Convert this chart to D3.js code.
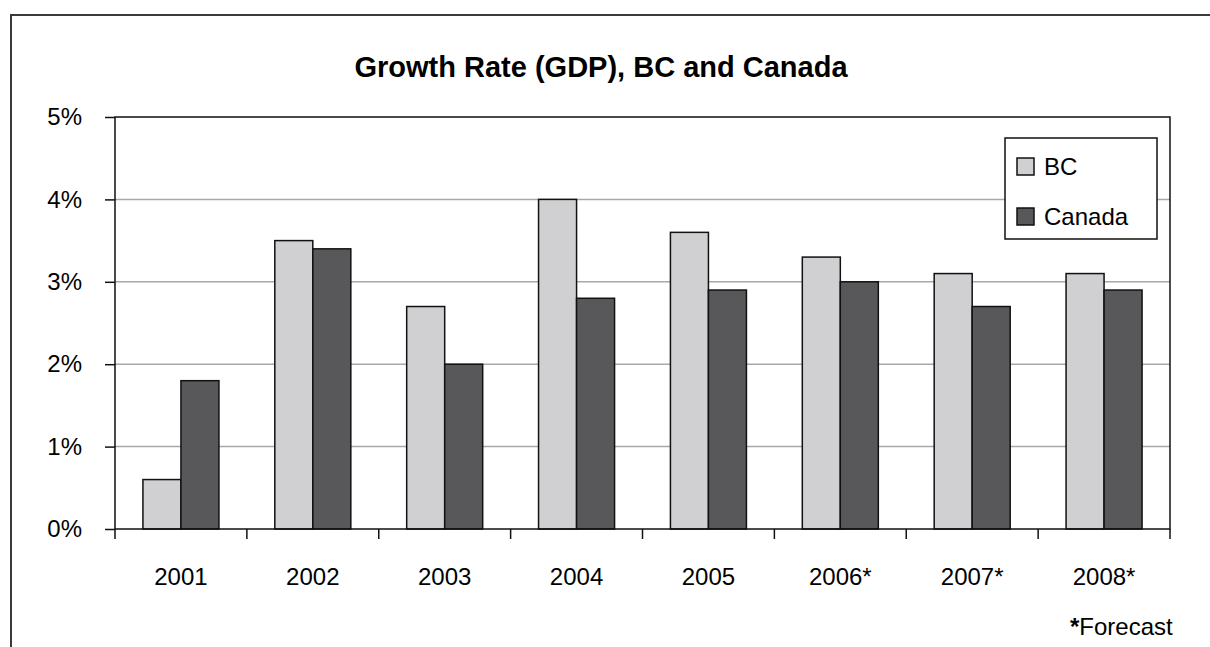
<!DOCTYPE html>
<html>
<head>
<meta charset="utf-8">
<script src="https://cdn.jsdelivr.net/npm/d3@7"></script>
<style>
  html, body { margin: 0; padding: 0; background: #fff; }
  svg { display: block; font-family: "Liberation Sans", Arial, sans-serif; }
</style>
</head>
<body>
<svg id="chart" width="1210" height="647"></svg>
<script>
// GDP growth, percent
const years = ["2001", "2002", "2003", "2004", "2005", "2006*", "2007*", "2008*"];
const bcValues = [0.6, 3.5, 2.7, 4.0, 3.6, 3.3, 3.1, 3.1];
const canadaValues = [1.8, 3.4, 2.0, 2.8, 2.9, 3.0, 2.7, 2.9];
const seriesNames = ["BC", "Canada"];
const seriesColors = ["#d0d0d2", "#58585a"];
const yTicks = [0, 1, 2, 3, 4, 5];

const svg = d3.select("#chart");

// outer frame (left and top edges)
svg.append("path")
  .attr("d", "M11,647 V15 H1210")
  .attr("fill", "none")
  .attr("stroke", "#3a3a3a")
  .attr("stroke-width", 2);

const plot = { left: 115, top: 117, right: 1170, bottom: 529 };

const x = d3.scaleBand()
  .domain(years)
  .range([plot.left, plot.right])
  .paddingInner(0)
  .paddingOuter(0);

const x1 = d3.scaleBand()
  .domain(seriesNames)
  .range([0, x.bandwidth()])
  .paddingInner(0)
  .paddingOuter(0.735);

const y = d3.scaleLinear()
  .domain([0, 5])
  .range([plot.bottom, plot.top]);

// horizontal gridlines
svg.append("g")
  .selectAll("line")
  .data(yTicks.filter(t => t > 0 && t < 5))
  .join("line")
  .attr("x1", plot.left).attr("x2", plot.right)
  .attr("y1", d => y(d)).attr("y2", d => y(d))
  .attr("stroke", "#a8a8a8")
  .attr("stroke-width", 1.5);

// bars
const rows = years.map((yr, i) => ({ year: yr, values: [bcValues[i], canadaValues[i]] }));
svg.append("g")
  .selectAll("g")
  .data(rows)
  .join("g")
  .attr("transform", d => `translate(${x(d.year)},0)`)
  .selectAll("rect")
  .data(d => d.values.map((v, j) => ({ key: seriesNames[j], value: v, color: seriesColors[j] })))
  .join("rect")
  .attr("x", d => x1(d.key))
  .attr("width", x1.bandwidth())
  .attr("y", d => y(d.value))
  .attr("height", d => y(0) - y(d.value))
  .attr("fill", d => d.color)
  .attr("stroke", "#111")
  .attr("stroke-width", 1.5);

// plot area border
svg.append("rect")
  .attr("x", plot.left).attr("y", plot.top)
  .attr("width", plot.right - plot.left)
  .attr("height", plot.bottom - plot.top)
  .attr("fill", "none")
  .attr("stroke", "#111")
  .attr("stroke-width", 1.5);

// y axis
const yAxis = d3.axisLeft(y)
  .tickValues(yTicks)
  .tickFormat(d => d + "%")
  .tickSize(10)
  .tickPadding(23);
const gy = svg.append("g")
  .attr("transform", `translate(${plot.left},0)`)
  .call(yAxis);
gy.select(".domain").remove();
gy.selectAll(".tick line").attr("stroke", "#111").attr("stroke-width", 1.5);
gy.selectAll(".tick text")
  .attr("font-size", 24)
  .attr("font-family", "Liberation Sans, Arial, sans-serif")
  .attr("fill", "#000");

// x axis: ticks at category boundaries
const boundaries = d3.range(years.length + 1).map(i => plot.left + i * x.step());
svg.append("g")
  .selectAll("line")
  .data(boundaries)
  .join("line")
  .attr("x1", d => d).attr("x2", d => d)
  .attr("y1", plot.bottom).attr("y2", plot.bottom + 10)
  .attr("stroke", "#111")
  .attr("stroke-width", 1.5);

svg.append("g")
  .selectAll("text")
  .data(years)
  .join("text")
  .attr("x", d => x(d) + x.bandwidth() / 2)
  .attr("y", 585)
  .attr("text-anchor", "middle")
  .attr("font-size", 24)
  .attr("fill", "#000")
  .text(d => d);

// title
svg.append("text")
  .attr("x", 601)
  .attr("y", 77)
  .attr("text-anchor", "middle")
  .attr("font-size", 29)
  .attr("font-weight", "bold")
  .attr("fill", "#000")
  .text("Growth Rate (GDP), BC and Canada");

// legend
const legend = svg.append("g");
legend.append("rect")
  .attr("x", 1005).attr("y", 138)
  .attr("width", 152).attr("height", 101)
  .attr("fill", "#fff")
  .attr("stroke", "#111")
  .attr("stroke-width", 1.5);
const items = legend.selectAll("g.item")
  .data(seriesNames)
  .join("g")
  .attr("class", "item")
  .attr("transform", (d, i) => `translate(1017,${158 + i * 50})`);
items.append("rect")
  .attr("width", 17).attr("height", 17)
  .attr("fill", (d, i) => seriesColors[i])
  .attr("stroke", "#111")
  .attr("stroke-width", 1.5);
items.append("text")
  .attr("x", 27)
  .attr("y", 17)
  .attr("font-size", 24)
  .attr("fill", "#000")
  .text(d => d);

// footnote
const note = svg.append("text")
  .attr("x", 1070)
  .attr("y", 635)
  .attr("font-size", 24)
  .attr("fill", "#000");
note.append("tspan").attr("font-weight", "bold").text("*");
note.append("tspan").text("Forecast");
</script>
</body>
</html>
